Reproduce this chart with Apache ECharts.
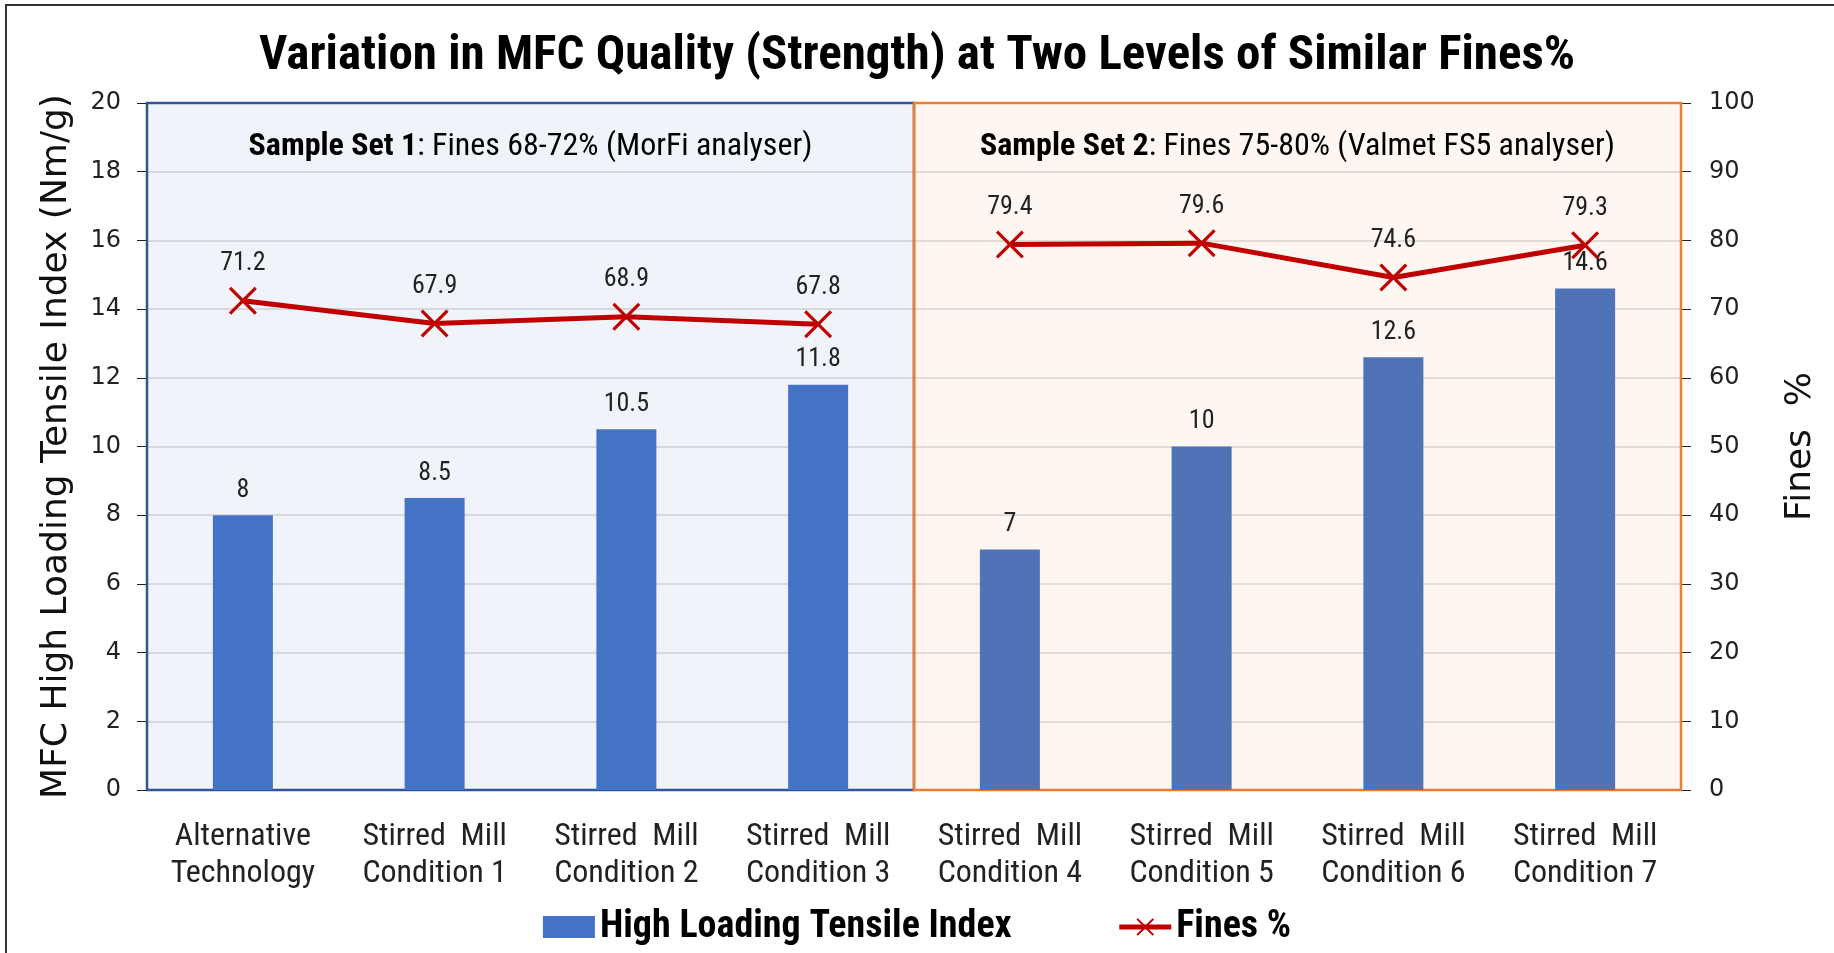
<!DOCTYPE html>
<html>
<head>
<meta charset="utf-8">
<script src="https://cdn.jsdelivr.net/npm/echarts@6/dist/echarts.min.js"></script>
<style>
html, body { margin: 0; padding: 0; background: #fff; }
#main { width: 1834px; height: 953px; }
</style>
</head>
<body>
<div id="main"></div>
<script>
// data
var categories = [
	'Alternative\nTechnology',
	'Stirred  Mill\nCondition 1',
	'Stirred  Mill\nCondition 2',
	'Stirred  Mill\nCondition 3',
	'Stirred  Mill\nCondition 4',
	'Stirred  Mill\nCondition 5',
	'Stirred  Mill\nCondition 6',
	'Stirred  Mill\nCondition 7'
];
var tensile = [8, 8.5, 10.5, 11.8, 7, 10, 12.6, 14.6];
var fines = [71.2, 67.9, 68.9, 67.8, 79.4, 79.6, 74.6, 79.3];
var setNames = ['Sample Set 1', 'Sample Set 2'];
var setNotes = ['Fines 68-72% (MorFi analyser)', 'Fines 75-80% (Valmet FS5 analyser)'];
var setStart = [0, 4];
var setEnd = [4, 8];
var leftAxis = { min: 0, max: 20, interval: 2 };
var rightAxis = { min: 0, max: 100, interval: 10 };

var narrow = "'Liberation Sans Narrow', 'Roboto Condensed', 'Arial Narrow', sans-serif";
var wide = "'DejaVu Sans', Verdana, sans-serif";
var crossPath = 'path://M0,1.6 L1.6,0 L10,8.4 L18.4,0 L20,1.6 L11.6,10 L20,18.4 L18.4,20 L10,11.6 L1.6,20 L0,18.4 L8.4,10 Z';

// keep only the points of one sample set, the line is broken between sets
function finesOfSet(k) {
	return fines.map(function (v, i) {
		return (i >= setStart[k] && i < setEnd[k]) ? v : '-';
	});
}

var chart = {
	init() {
		var dom = document.getElementById('main');
		chart.myChart = echarts.init(dom);
		var setFill = ['rgba(68,114,196,0.08)', 'rgba(237,125,49,0.07)'];
		var setBorder = ['#2F5597', '#ED7D31'];
		var areas = [];
		for (var i = 0; i < setNames.length; i++) {
			areas.push([{
				xAxis: setStart[i],
				yAxis: leftAxis.min,
				itemStyle: { color: setFill[i], borderColor: setBorder[i], borderWidth: 2.5 },
				label: {
					show: true,
					position: 'insideTop',
					distance: 29,
					formatter: '{b|' + setNames[i] + '}: ' + setNotes[i],
					fontFamily: narrow,
					fontSize: 32,
					color: '#000',
					rich: { b: { fontFamily: narrow, fontSize: 32, fontWeight: 'bold', color: '#000' } }
				}
			}, {
				xAxis: setEnd[i],
				yAxis: leftAxis.max
			}]);
		}
		var finesSeries = [];
		for (var k = 0; k < setNames.length; k++) {
			finesSeries.push({
				name: 'Fines %',
				type: 'line',
				yAxisIndex: 1,
				z: 4,
				symbol: crossPath,
				symbolSize: 28,
				lineStyle: { color: '#C00000', width: 5 },
				itemStyle: { color: '#C00000' },
				label: {
					show: true,
					position: 'top',
					distance: 10,
					fontFamily: narrow,
					fontSize: 26,
					color: '#222'
				},
				data: finesOfSet(k)
			});
		}
		var option = {
			animation: false,
			backgroundColor: '#fff',
			title: {
				text: 'Variation in MFC Quality (Strength) at Two Levels of Similar Fines%',
				left: 'center',
				top: 27,
				textStyle: { fontFamily: narrow, fontSize: 49, fontWeight: 'bold', color: '#000' }
			},
			legend: {
				bottom: 2,
				left: 'center',
				itemWidth: 52,
				itemHeight: 22,
				itemGap: 105,
				textStyle: { fontFamily: narrow, fontSize: 38, fontWeight: 'bold', color: '#000' },
				data: [{
					name: 'High Loading Tensile Index',
					icon: 'rect',
					itemStyle: { color: '#4472C4' }
				}, {
					name: 'Fines %',
					itemStyle: { color: '#C00000' },
					lineStyle: { color: '#C00000', width: 5 }
				}]
			},
			grid: { left: 147, right: 153, top: 103, bottom: 163 },
			xAxis: [{
				type: 'category',
				data: categories,
				axisLine: { lineStyle: { color: '#222', width: 1.5 } },
				axisTick: { show: false },
				axisLabel: { fontFamily: narrow, fontSize: 32, lineHeight: 37, color: '#222', margin: 28 }
			}, {
				type: 'value',
				min: 0,
				max: categories.length,
				show: false
			}],
			yAxis: [{
				type: 'value',
				min: leftAxis.min,
				max: leftAxis.max,
				interval: leftAxis.interval,
				name: 'MFC High Loading Tensile Index (Nm/g)',
				nameLocation: 'middle',
				nameRotate: 90,
				nameGap: 72,
				nameTextStyle: { fontFamily: wide, fontSize: 36, color: '#111' },
				axisLine: { show: true, lineStyle: { color: '#2F5597', width: 1.5 } },
				axisTick: { show: true, length: 10, lineStyle: { color: '#222' } },
				axisLabel: { fontFamily: wide, fontSize: 24, color: '#222', margin: 26 },
				splitLine: { lineStyle: { color: '#D9D9D9', width: 1.5 } }
			}, {
				type: 'value',
				min: rightAxis.min,
				max: rightAxis.max,
				interval: rightAxis.interval,
				name: 'Fines  %',
				nameLocation: 'middle',
				nameRotate: 90,
				nameGap: 102,
				nameTextStyle: { fontFamily: wide, fontSize: 36, color: '#111' },
				axisLine: { show: true, lineStyle: { color: '#222', width: 1.5 } },
				axisTick: { show: true, length: 10, lineStyle: { color: '#222' } },
				axisLabel: { fontFamily: wide, fontSize: 24, color: '#222', margin: 28 },
				splitLine: { show: false }
			}],
			series: [{
				name: 'sets',
				type: 'line',
				xAxisIndex: 1,
				yAxisIndex: 0,
				data: [],
				silent: true,
				markArea: { silent: true, data: areas }
			}, {
				name: 'High Loading Tensile Index',
				type: 'bar',
				barWidth: 60,
				z: 3,
				itemStyle: {
					color: function (p) { return p.dataIndex < 4 ? '#4472C4' : '#5073B8'; }
				},
				label: {
					show: true,
					position: 'top',
					distance: 12,
					fontFamily: narrow,
					fontSize: 26,
					color: '#222'
				},
				data: tensile
			}].concat(finesSeries),
			graphic: [{
				type: 'line',
				shape: { x1: 5, y1: 5, x2: 1834, y2: 5 },
				style: { stroke: '#333', lineWidth: 2 }
			}, {
				type: 'line',
				shape: { x1: 6, y1: 5, x2: 6, y2: 953 },
				style: { stroke: '#333', lineWidth: 2 }
			}]
		};
		chart.myChart.setOption(option, true);
	}
};
chart.init();
</script>
</body>
</html>
